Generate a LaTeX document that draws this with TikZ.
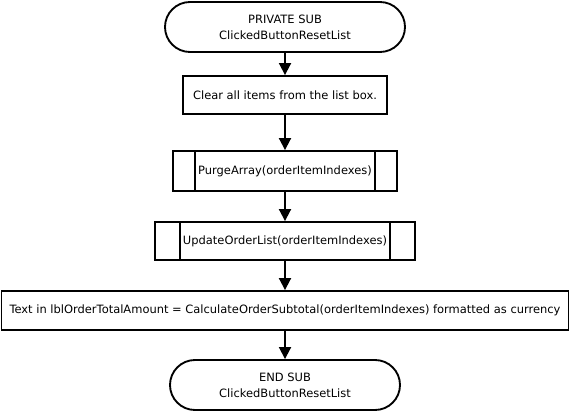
\documentclass[tikz,border=0pt]{standalone}
\usepackage{fontspec}
\setmainfont{DejaVu Sans}
\usetikzlibrary{arrows.meta,shapes.misc}

\begin{document}
\begin{tikzpicture}[x=0.75pt,y=-0.75pt,
    every node/.style={font=\fontsize{8.6}{12}\selectfont, align=center, line width=1.4pt},
    terminal/.style={draw, rounded rectangle, inner sep=0pt},
    process/.style={draw, rectangle, inner sep=0pt},
    subproc/.style={draw, rectangle, inner sep=0pt},
    flow/.style={line width=1.4pt, -{Triangle[width=9pt,length=9pt]}}]
  \useasboundingbox (0,0) rectangle (571,413);
  % Data: name/y/width/height/style/text
  \foreach \n/\y/\w/\h/\s/\t in {
    start/27/240/50/terminal/{PRIVATE SUB\\ClickedButtonResetList},
    clear/95/204/38/process/{Clear all items from the list box.},
    purge/171/224/40/subproc/{PurgeArray(orderItemIndexes)},
    update/241/260/38/subproc/{UpdateOrderList(orderItemIndexes)},
    total/310.5/567/39/process/{Text in lblOrderTotalAmount = CalculateOrderSubtotal(orderItemIndexes) formatted as currency},
    end/385/230/50/terminal/{END SUB\\ClickedButtonResetList}} {
    % draw box
    \node[\s, minimum width=\w*0.75pt, minimum height=\h*0.75pt] (\n) at (285,\y) {\t};
  }
  % side bars of the sub-process boxes
  \foreach \n/\d in {purge/23, update/26} {
    \draw[line width=1.4pt] ([xshift=\d*0.75pt]\n.north west) -- ([xshift=\d*0.75pt]\n.south west);
    \draw[line width=1.4pt] ([xshift=-\d*0.75pt]\n.north east) -- ([xshift=-\d*0.75pt]\n.south east);
  }
  % arrows
  \foreach \a/\b in {start/clear, clear/purge, purge/update, update/total, total/end}
    \draw[flow] (\a) -- (\b);
\end{tikzpicture}
\end{document}
